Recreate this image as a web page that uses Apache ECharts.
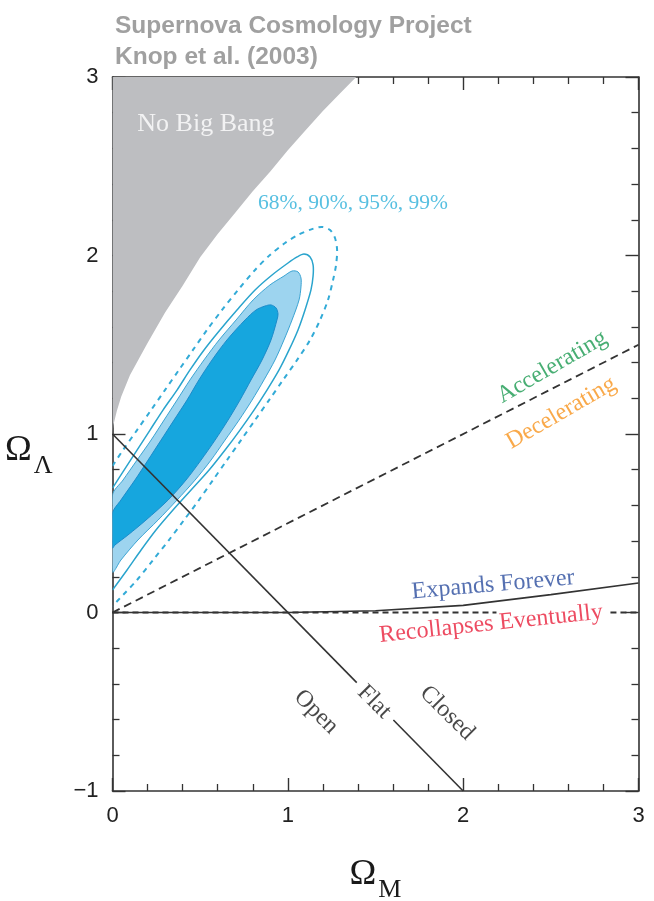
<!DOCTYPE html>
<html><head><meta charset="utf-8">
<script src="https://cdn.jsdelivr.net/npm/echarts@6/dist/echarts.min.js"></script>
<style>html,body{margin:0;padding:0;background:#fff}#c{width:654px;height:901px}</style>
</head><body><div id="c"></div>
<script>
// ---- axis ranges and tick labels ----
const xRange = [0, 3];
const yRange = [-1, 3];
const xTickLabels = ['0', '1', '2', '3'];
const yTickLabels = ['−1', '0', '1', '2', '3'];

// ---- "No Big Bang" boundary (Ω_M, Ω_Λ) ----
const noBigBangEdge = [[0,1.00],[0.005,1.05],[0.01,1.07],[0.025,1.13],[0.05,1.21],[0.1,1.33],[0.15,1.42],[0.2,1.51],[0.3,1.68],[0.4,1.83],[0.5,1.99],[0.6,2.12],[0.7,2.24],[0.8,2.36],[0.9,2.47],[1.0,2.59],[1.1,2.70],[1.2,2.81],[1.3,2.91],[1.39,3.0]];

// ---- confidence contours (Ω_M, Ω_Λ) ----
const contour68 = [[0,0.557],[0.048,0.630],[0.128,0.742],[0.203,0.854],[0.277,0.966],[0.351,1.078],[0.425,1.190],[0.493,1.303],[0.568,1.415],[0.653,1.527],[0.756,1.639],[0.819,1.695],[0.870,1.717],[0.904,1.723],[0.933,1.706],[0.944,1.672],[0.938,1.639],[0.904,1.527],[0.853,1.415],[0.790,1.303],[0.727,1.190],[0.659,1.078],[0.585,0.966],[0.505,0.854],[0.419,0.742],[0.317,0.630],[0.191,0.518],[0.088,0.434],[0.014,0.378],[0,0.361]];
const contour90 = [[0,0.658],[0.060,0.742],[0.140,0.854],[0.220,0.966],[0.294,1.078],[0.368,1.190],[0.442,1.303],[0.522,1.415],[0.608,1.527],[0.705,1.639],[0.802,1.751],[0.898,1.835],[0.978,1.885],[1.024,1.913],[1.058,1.908],[1.075,1.874],[1.075,1.824],[1.064,1.751],[1.024,1.639],[0.978,1.527],[0.927,1.415],[0.864,1.303],[0.796,1.190],[0.722,1.078],[0.642,0.966],[0.562,0.854],[0.471,0.742],[0.368,0.630],[0.260,0.518],[0.145,0.406],[0.048,0.294],[0,0.227]];
const contour95 = [[0,0.697],[0.066,0.798],[0.140,0.910],[0.214,1.022],[0.288,1.134],[0.368,1.246],[0.442,1.359],[0.522,1.471],[0.613,1.583],[0.710,1.695],[0.813,1.807],[0.910,1.891],[1.001,1.958],[1.053,1.992],[1.092,2.008],[1.127,1.992],[1.144,1.947],[1.144,1.885],[1.132,1.807],[1.098,1.695],[1.058,1.583],[1.007,1.471],[0.950,1.359],[0.881,1.246],[0.807,1.134],[0.727,1.022],[0.642,0.910],[0.551,0.798],[0.448,0.686],[0.345,0.574],[0.248,0.462],[0.163,0.350],[0.083,0.238],[0,0.126]];
const contour99 = [[0,0.821],[0.060,0.910],[0.140,1.022],[0.220,1.134],[0.299,1.246],[0.379,1.359],[0.459,1.471],[0.539,1.583],[0.625,1.695],[0.716,1.807],[0.813,1.919],[0.898,2.003],[0.984,2.070],[1.058,2.115],[1.138,2.148],[1.195,2.160],[1.241,2.143],[1.269,2.098],[1.281,2.031],[1.275,1.947],[1.258,1.863],[1.229,1.751],[1.184,1.639],[1.127,1.527],[1.053,1.415],[0.973,1.303],[0.893,1.190],[0.813,1.078],[0.733,0.966],[0.653,0.854],[0.573,0.742],[0.493,0.630],[0.408,0.518],[0.322,0.406],[0.231,0.294],[0.140,0.182],[0.060,0.098],[0,0.036]];

// ---- reference lines ----
const flatLineUpper = [[0,1],[1.393,-0.393]];
const flatLineLower = [[1.602,-0.602],[2,-1]];
const accelLine = [[0,0],[3,1.5]];
const expandCurve = [[0,0],[1,0],[1.5,0.01],[2,0.04],[2.5,0.10],[3,0.165]];
const zeroDashLeft = [[0,0],[2.19,0]];
const zeroDashRight = [[2.84,0],[3,0]];

// ---- annotations ----
const labelTexts = ['No Big Bang','68%, 90%, 95%, 99%','Accelerating','Decelerating','Expands Forever','Recollapses Eventually','Open','Flat','Closed'];
const labelAnchors = [[0.533,2.737],[1.372,2.294],[2.507,1.375],[2.559,1.118],[2.171,0.154],[2.159,-0.064],[1.161,-0.557],[1.492,-0.501],[1.908,-0.563]];
const labelColors = ['#ffffff','#2eb0d9','#1a9a50','#f7941d','#2a4c9e','#e81e3a','#1a1a1a','#1a1a1a','#1a1a1a'];
const labelAngles = [0,0,30,30,5,6,-45,-45,-45];
const labelSizes = [26,21.5,24,24,24,24,24,24,24];

const chart = echarts.init(document.getElementById('c'), null, {renderer:'canvas'});
const serif = '"Liberation Serif","Times New Roman",serif';
const sans = '"Liberation Sans",Arial,Helvetica,sans-serif';
const axisCol = '#333';

function tickFmtY(v){ return yTickLabels[Math.round(v - yRange[0])]; }
function tickFmtX(v){ return xTickLabels[Math.round(v - xRange[0])]; }

const baseAxis = {
  type:'value', interval:1,
  axisLine:{show:true, onZero:false, lineStyle:{color:axisCol, width:1.6}},
  axisTick:{show:true, inside:true, length:13, lineStyle:{color:axisCol, width:1.4}},
  minorTick:{show:true, splitNumber:5, length:7, lineStyle:{color:axisCol, width:1.3}},
  splitLine:{show:false}, minorSplitLine:{show:false}
};

function clipRect(params){
  const cs = params.coordSys;
  return {type:'rect', shape:{x:cs.x, y:cs.y, width:cs.width, height:cs.height}};
}
function polygonSeries(points, style, smooth, z){
  return {type:'custom', coordinateSystem:'cartesian2d', clip:true, silent:true, z:z, data:[[0,0]],
    renderItem:function(params, api){
      return {type:'polygon', clipPath:clipRect(params), shape:{points: points.map(p=>api.coord(p)), smooth:smooth}, style:style};
    }};
}
function polylineSeries(points, style, z){
  return {type:'custom', coordinateSystem:'cartesian2d', clip:true, silent:true, z:z, data:[[0,0]],
    renderItem:function(params, api){
      return {type:'polyline', clipPath:clipRect(params), shape:{points: points.map(p=>api.coord(p)), smooth:0.3}, style:Object.assign({fill:null}, style)};
    }};
}
function lineSeries(data, lineStyle, z){
  return {type:'line', data:data, showSymbol:false, symbol:'none', silent:true, z:z, lineStyle:lineStyle, animation:false};
}

function nameRich(){
  return {
    o:{fontFamily:serif, fontSize:36, color:'#1a1a1a'},
    s:{fontFamily:serif, fontSize:26, color:'#1a1a1a', padding:[30,0,0,2]}
  };
}

const option = {
  animation:false,
  backgroundColor:'#fff',
  title:{
    text:'Supernova Cosmology Project\nKnop et al. (2003)',
    left:110, top:6,
    textStyle:{fontFamily:sans, fontSize:24.5, fontWeight:'bold', color:'#a0a0a0', lineHeight:31}
  },
  grid:{left:112.5, right:15.5, top:77, bottom:110, outerBoundsMode:'none', containLabel:false},
  xAxis:[
    Object.assign({}, baseAxis, {position:'bottom', min:xRange[0], max:xRange[1],
      axisLabel:{formatter:tickFmtX, fontFamily:sans, fontSize:22, color:'#222', margin:14},
      name:'{o|Ω}{s|M}', nameLocation:'middle', nameGap:56,
      nameTextStyle:{rich:nameRich()}
    }),
    Object.assign({}, baseAxis, {position:'top', min:xRange[0], max:xRange[1], axisLabel:{show:false}})
  ],
  yAxis:[
    Object.assign({}, baseAxis, {position:'left', min:yRange[0], max:yRange[1],
      axisLabel:{formatter:tickFmtY, fontFamily:sans, fontSize:22, color:'#222', margin:14},
      name:'{o|Ω}{s|Λ}', nameLocation:'middle', nameGap:60, nameRotate:0,
      nameTextStyle:{rich:nameRich(), padding:[34,0,0,0]}
    }),
    Object.assign({}, baseAxis, {position:'right', min:yRange[0], max:yRange[1], axisLabel:{show:false}})
  ],
  series:[
    polygonSeries(noBigBangEdge.concat([[0,3]]), {fill:'#bdbec1', stroke:null}, 0, 1),
    polygonSeries(contour90, {fill:'#9dd4ef', stroke:'#3ba3d2', lineWidth:1}, 0.3, 2),
    polygonSeries(contour68, {fill:'#16a6de', stroke:'#1b8bca', lineWidth:1}, 0.3, 3),
    polylineSeries(contour95, {stroke:'#2aa4cd', lineWidth:1.5}, 4),
    polylineSeries(contour99, {stroke:'#33abd7', lineWidth:2, lineDash:[5,5]}, 4),
    lineSeries(flatLineUpper, {color:'#333', width:1.6}, 6),
    lineSeries(flatLineLower, {color:'#333', width:1.6}, 6),
    lineSeries(accelLine, {color:'#333', width:1.8, type:[8,5]}, 6),
    lineSeries(expandCurve, {color:'#333', width:1.6}, 6),
    lineSeries(zeroDashLeft, {color:'#333', width:1.8, type:[6,4]}, 7),
    lineSeries(zeroDashRight, {color:'#333', width:1.8, type:[6,4]}, 7),
    {type:'scatter', silent:true, z:10, symbolSize:1, itemStyle:{color:'rgba(0,0,0,0)'},
      data: labelTexts.map((t,i)=>({value:labelAnchors[i], label:{show:true, position:'inside', formatter:t, rotate:labelAngles[i], color:labelColors[i], fontSize:labelSizes[i], fontFamily:serif, align:'center', verticalAlign:'middle'}}))
    }
  ]
};
chart.setOption(option);
</script></body></html>
